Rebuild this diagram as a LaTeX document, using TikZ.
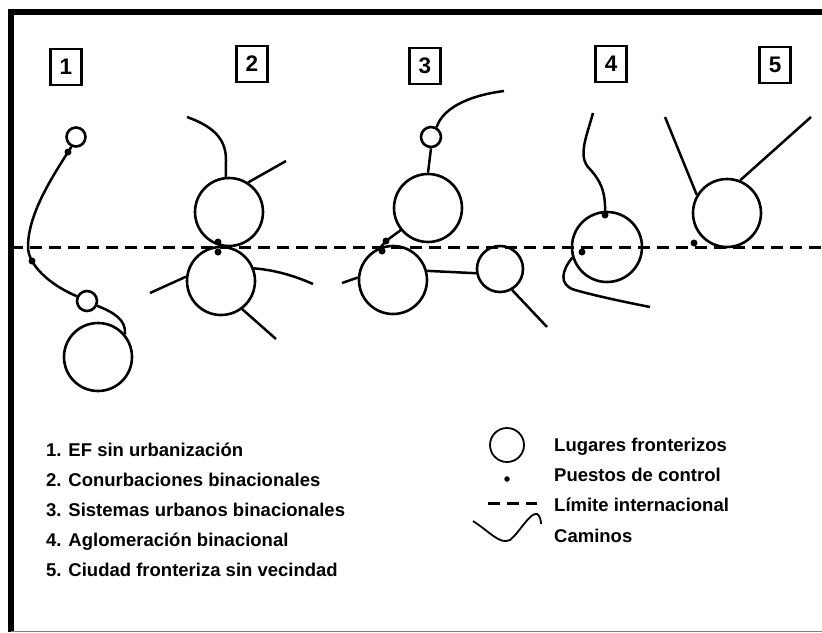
\documentclass[tikz,border=0pt]{standalone}
\usepackage{fontspec}
\setmainfont{Liberation Sans}

\begin{document}
\begin{tikzpicture}[x=1pt,y=-1pt]
  \tikzset{lugar/.style={circle, draw, line width=2.6pt, inner sep=0pt, minimum size=#1},
    puesto/.style={circle, fill, inner sep=0pt, minimum size=7pt},
    numero/.style={draw, line width=2.6pt, inner sep=0pt, minimum width=31pt, minimum height=36pt,
      font=\fontsize{22.5}{24}\selectfont\bfseries},
    camino/.style={line width=2.5pt},
    limite/.style={line width=3pt, dash pattern=on 11.5pt off 7.5pt},
    leyenda/.style={anchor=base west, inner sep=0pt, font=\fontsize{18.5}{22}\selectfont\bfseries}}
  \useasboundingbox (0,0) rectangle (822,632);
  \draw[line width=6pt] (11,632) -- (11,11.5) -- (822,11.5);
  \draw[gray, line width=1pt] (11,631) -- (822,631);
  \coordinate (lim-w) at (11,247);
  \coordinate (lim-e) at (822,247);
  \draw[limite] (lim-w) -- (lim-e);

  \node[numero] (k1) at (66,67) {1};
  \node[numero] (k2) at (252,64) {2};
  \node[numero] (k3) at (425,66) {3};
  \node[numero] (k4) at (611,64) {4};
  \node[numero] (k5) at (775,65) {5};

  \node[lugar=19pt] (a1) at (76,137) {};
  \node[lugar=20pt] (b1) at (87,301) {};
  \node[lugar=68pt] (c1) at (98,357) {};
  \node[puesto] (p1a) at (68,152) {};
  \node[puesto] (p1b) at (32,261) {};
  \draw[camino] (a1.245) .. controls (50,180) and (28,215) .. (28,247)
    .. controls (28,265) and (50,285) .. (b1.155);
  \draw[camino] (b1.-25) .. controls (115,313) and (126,320) .. (c1.40);

  \node[lugar=68pt] (n2) at (229,212) {};
  \node[lugar=68pt] (s2) at (221,281) {};
  \node[puesto] (p2a) at (218,242) {};
  \node[puesto] (p2b) at (218,252) {};
  \coordinate (r2a) at (187,117);
  \coordinate (r2b) at (286,161);
  \coordinate (r2c) at (150,293);
  \coordinate (r2d) at (313,284);
  \coordinate (r2e) at (276,339);
  \draw[camino] (r2a) .. controls (215,127) and (226,140) .. (226,160) -- (n2.95);
  \draw[camino] (n2.57) -- (r2b);
  \draw[camino] (s2.173) -- (r2c);
  \draw[camino] (s2.21) .. controls (275,270) and (295,276) .. (r2d);
  \draw[camino] (s2.-53) -- (r2e);

  \node[lugar=68pt] (n3) at (428,208) {};
  \node[lugar=20pt] (m3) at (431,137) {};
  \node[lugar=68pt] (s3) at (393,280) {};
  \node[lugar=46pt] (e3) at (500,269) {};
  \node[puesto] (p3a) at (386,241) {};
  \node[puesto] (p3b) at (382,251) {};
  \coordinate (r3a) at (504,91);
  \coordinate (r3b) at (342,283);
  \coordinate (r3c) at (547,327);
  \draw[camino] (m3.60) .. controls (442,110) and (465,96) .. (r3a);
  \draw[camino] (m3.south) -- (n3.north);
  \draw[camino] (n3.219) -- (p3a.center) -- (s3.110);
  \draw[camino] (s3.176) -- (r3b);
  \draw[camino] (s3.15) -- (e3.190);
  \draw[camino] (e3.-60) -- (r3c);

  \node[lugar=70pt] (c4) at (607,247) {};
  \node[puesto] (p4a) at (605,215) {};
  \node[puesto] (p4b) at (582,252) {};
  \coordinate (r4a) at (593,113);
  \coordinate (r4b) at (650,307);
  \draw[camino] (r4a) .. controls (587,135) and (578,155) .. (588,167)
    .. controls (600,180) and (606,190) .. (p4a.center);
  \draw[camino] (c4.197) .. controls (562,270) and (558,285) .. (575,290)
    .. controls (600,297) and (630,303) .. (r4b);

  \node[lugar=68pt] (c5) at (727,213) {};
  \node[puesto] (p5) at (694,243) {};
  \coordinate (r5a) at (665,117);
  \coordinate (r5b) at (811,117);
  \draw[camino] (c5.149) -- (r5a);
  \draw[camino] (c5.68) -- (r5b);

  \node[leyenda] (t1) at (46,456) {1. EF sin urbanización};
  \node[leyenda] (t2) at (46,486) {2. Conurbaciones binacionales};
  \node[leyenda] (t3) at (46,516) {3. Sistemas urbanos binacionales};
  \node[leyenda] (t4) at (46,546) {4. Aglomeración binacional};
  \node[leyenda] (t5) at (46,576) {5. Ciudad fronteriza sin vecindad};

  \node[lugar=34pt, line width=1.8pt] (ly1) at (507,445) {};
  \node[puesto, minimum size=5.5pt] (ly2) at (507,479) {};
  \coordinate (ly3a) at (488,503);
  \coordinate (ly3b) at (537,503);
  \draw[limite] (ly3a) -- (ly3b);
  \coordinate (ly4) at (473,521);
  \draw[line width=1.8pt] (ly4) .. controls (490,532) and (500,545) .. (510,540)
    .. controls (520,532) and (530,512) .. (537,514) .. controls (540,516) and (541,520) .. (541,524);
  \node[leyenda] (tl1) at (554,451) {Lugares fronterizos};
  \node[leyenda] (tl2) at (554,481) {Puestos de control};
  \node[leyenda] (tl3) at (554,511) {Límite internacional};
  \node[leyenda] (tl4) at (554,542) {Caminos};
\end{tikzpicture}
\end{document}
